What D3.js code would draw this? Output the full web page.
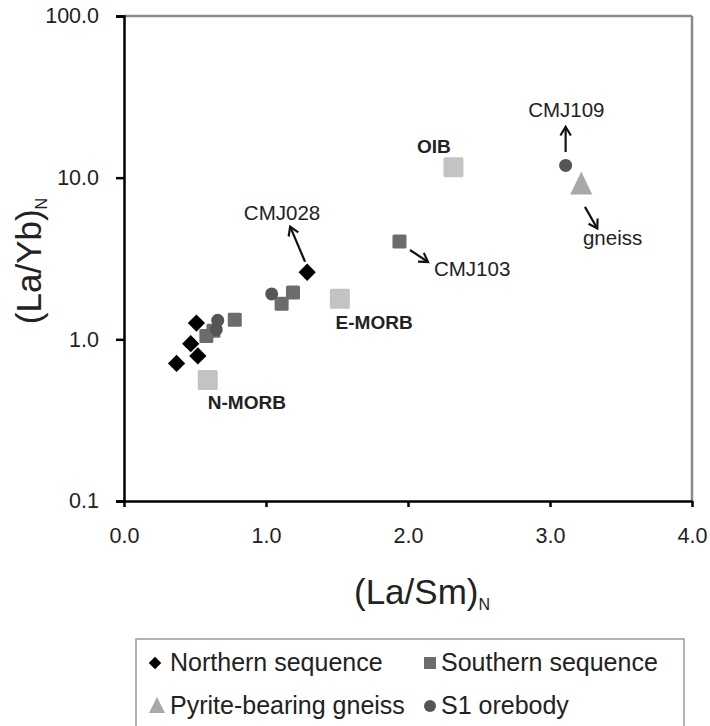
<!DOCTYPE html>
<html><head><meta charset="utf-8">
<script src="https://cdn.jsdelivr.net/npm/d3@7"></script>
<style>body{margin:0;background:#fff}text{font-family:"Liberation Sans",Arial,sans-serif;fill:#222}</style>
</head><body><svg id="c" width="710" height="726"></svg>
<script>
// ---- data ----
const northern = [[0.37,0.71],[0.47,0.94],[0.51,1.26],[0.52,0.79],[1.29,2.60]];
const southern = [[0.58,1.05],[0.63,1.13],[0.78,1.32],[1.11,1.66],[1.19,1.95],[1.94,4.03]];
const orebody = [[0.66,1.31],[0.65,1.15],[1.04,1.91],[3.11,11.9]];
const gneiss = [[3.22,9.2]];
const refNames = ["N-MORB","E-MORB","OIB"];
const refValues = [[0.59,0.56],[1.52,1.78],[2.32,11.6]];
const xTicks = [0,1,2,3,4];
const yTicks = [0.1,1,10,100];
// annotations: label, arrow from -> to (data units)
const annLabels = ["CMJ028","CMJ103","CMJ109","gneiss"];
const annArrows = [[[1.275,3.02],[1.17,4.98]],[[2.014,3.57],[2.141,3.01]],[[3.11,14.4],[3.11,20.6]],[[3.246,6.6],[3.333,4.85]]];
const annPos = [[1.113,5.45],[2.183,2.47],[3.115,23.7],[3.232,3.83]];
const refLabelPos = [[0.59,0.371],[1.49,1.16],[2.063,14.2]];

const svg = d3.select("#c");
const x = d3.scaleLinear().domain([0,4]).range([124,692]);
const y = d3.scaleLog().domain([0.1,100]).range([501,16]);

// frame top/right
svg.append("line").attr("x1",x(0)).attr("x2",x(4)).attr("y1",y(100)).attr("y2",y(100)).attr("stroke","#8a8a8a").attr("stroke-width",2.5);
svg.append("line").attr("x1",x(4)).attr("x2",x(4)).attr("y1",y(100)).attr("y2",y(0.1)).attr("stroke","#8a8a8a").attr("stroke-width",2.5);

// axes
const ya = svg.append("g").attr("transform",`translate(${x(0)},0)`)
  .call(d3.axisLeft(y).tickValues(yTicks).tickFormat(d3.format(".1f")).tickSize(8).tickPadding(17));
ya.select(".domain").attr("stroke","#000").attr("stroke-width",2.5);
ya.selectAll(".tick line").attr("stroke","#000").attr("stroke-width",2.5);
ya.selectAll(".tick text").style("font-size","21.5px").attr("fill","#222");

const xa = svg.append("g").attr("transform",`translate(0,${y(0.1)})`)
  .call(d3.axisBottom(x).tickValues(xTicks).tickFormat(d3.format(".1f")).tickSizeInner(6).tickSizeOuter(0).tickPadding(21));
xa.select(".domain").attr("stroke","#000").attr("stroke-width",2.5);
xa.selectAll(".tick line").attr("stroke","#000").attr("stroke-width",2.5);
xa.selectAll(".tick text").style("font-size","21.5px").attr("fill","#222");

// axis titles
const xt = svg.append("text").attr("x",422).attr("y",604).attr("text-anchor","middle").style("font-size","35px");
xt.append("tspan").text("(La/Sm)");
xt.append("tspan").text("N").attr("dy",6).style("font-size","16px");
const yt = svg.append("text").attr("transform","translate(41,261) rotate(-90)").attr("text-anchor","middle").style("font-size","35px");
yt.append("tspan").text("(La/Yb)");
yt.append("tspan").text("N").attr("dy",6).style("font-size","16px");

// symbols
const sym = (type,size)=>d3.symbol().type(type).size(size)();
const g = svg.append("g");
g.selectAll(".ref").data(refValues).join("rect")
  .attr("x",d=>x(d[0])-10).attr("y",d=>y(d[1])-10).attr("width",20).attr("height",20).attr("rx",1.5).attr("fill","#c3c3c3");
g.selectAll(".sth").data(southern).join("rect")
  .attr("x",d=>x(d[0])-7).attr("y",d=>y(d[1])-7).attr("width",14).attr("height",14).attr("rx",1.5).attr("fill","#6c6c6c");
g.selectAll(".ore").data(orebody).join("circle")
  .attr("cx",d=>x(d[0])).attr("cy",d=>y(d[1])).attr("r",6.5).attr("fill","#555");
g.selectAll(".nth").data(northern).join("path")
  .attr("d",sym(d3.symbolDiamond2,190)).attr("transform",d=>`translate(${x(d[0])},${y(d[1])})`).attr("fill","#000");
g.selectAll(".gn").data(gneiss).join("path")
  .attr("d","M0,-12L11,11L-11,11Z").attr("transform",d=>`translate(${x(d[0])},${y(d[1])})`).attr("fill","#a8a8a8");

// reference labels
svg.selectAll(".rl").data(refNames).join("text")
  .attr("x",(d,i)=>x(refLabelPos[i][0])).attr("y",(d,i)=>y(refLabelPos[i][1]))
  .style("font-size","19px").style("font-weight","bold").attr("fill","#222").text(d=>d);

// annotations
svg.selectAll(".al").data(annLabels).join("text")
  .attr("x",(d,i)=>x(annPos[i][0])).attr("y",(d,i)=>y(annPos[i][1]))
  .attr("text-anchor",(d,i)=>i===0||i===2?"middle":"start")
  .style("font-size","20.5px").attr("fill","#222").text(d=>d);
annArrows.forEach(a=>{
  const x1=x(a[0][0]),y1=y(a[0][1]),x2=x(a[1][0]),y2=y(a[1][1]);
  const ang=Math.atan2(y2-y1,x2-x1), L=10, w=0.55;
  svg.append("line").attr("x1",x1).attr("y1",y1).attr("x2",x2).attr("y2",y2).attr("stroke","#111").attr("stroke-width",2.2);
  svg.append("path").attr("d",`M${x2-L*Math.cos(ang-w)},${y2-L*Math.sin(ang-w)}L${x2},${y2}L${x2-L*Math.cos(ang+w)},${y2-L*Math.sin(ang+w)}`)
    .attr("fill","none").attr("stroke","#111").attr("stroke-width",2.2);
});

// legend
const legNames = ["Northern sequence","Southern sequence","Pyrite-bearing gneiss","S1 orebody"];
const legPos = [[155,671],[430,671],[157,714],[430,714]];
const lg = svg.append("g");
lg.append("rect").attr("x",136).attr("y",639).attr("width",548).attr("height",100).attr("fill","none").attr("stroke","#999").attr("stroke-width",1.5);
const legItems = lg.selectAll(".li").data(legNames).join("g").attr("transform",(d,i)=>`translate(${legPos[i][0]},${legPos[i][1]})`);
legItems.each(function(d,i){
  const s=d3.select(this);
  if(i===0) s.append("path").attr("d",sym(d3.symbolDiamond2,100)).attr("transform","translate(0,-8)").attr("fill","#000");
  if(i===1) s.append("rect").attr("x",-6).attr("y",-14).attr("width",12).attr("height",12).attr("fill","#6c6c6c");
  if(i===2) s.append("path").attr("d","M0,-17L8,-1L-8,-1Z").attr("fill","#a8a8a8");
  if(i===3) s.append("circle").attr("cy",-8).attr("r",6).attr("fill","#555");
  s.append("text").attr("x",i===0?15:(i===2?13:11)).attr("y",0).style("font-size","25px").attr("fill","#222").text(d);
});
</script></body></html>
